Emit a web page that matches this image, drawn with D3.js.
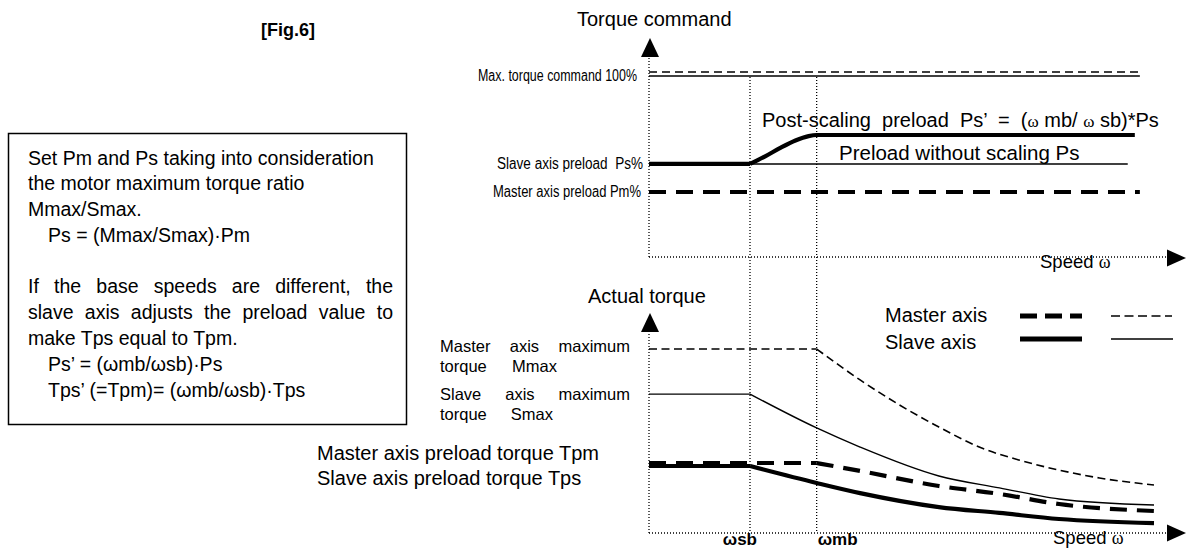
<!DOCTYPE html>
<html>
<head>
<meta charset="utf-8">
<script src="https://cdn.jsdelivr.net/npm/d3@7/dist/d3.min.js"></script>
<style>
  body { margin: 0; background: #fff; }
  svg text { font-family: "Liberation Sans", Arial, sans-serif; fill: #000; }
  .serif { font-family: "Liberation Serif", "DejaVu Serif", serif; }
</style>
</head>
<body>
<svg id="chart" width="1186" height="549"></svg>
<script>
// speed is relative to the slave base speed (wsb = 1)
var speedMarks = [{label: "ωsb", v: 1.0}, {label: "ωmb", v: 1.66}];

// upper chart, torque command in %
var cmdMaxMaster = [[0, 100], [4.86, 100]];
var cmdMaxSlave = [[0, 100], [4.86, 100]];
var cmdPs = [[0, 51.4], [1.0, 51.4], [4.74, 51.4]];
var cmdPsScaled = [[0, 51.4], [1.0, 51.4], [1.15, 55.6], [1.3, 60.3], [1.45, 64.4], [1.58, 66.8], [1.66, 67.4], [4.81, 67.4]];
var cmdPm = [[0, 35.9], [4.86, 35.9]];

// lower chart, actual torque in % of master max
var masterMax = [[0, 100], [1.66, 100], [2.09, 83.2], [2.48, 69.6], [2.87, 57.6], [3.27, 46.7], [3.66, 39.7], [4.06, 34.2], [4.46, 29.9], [5.0, 26.1]];
var slaveMax = [[0, 75.5], [1.0, 75.5], [1.66, 57.1], [2.09, 46.7], [2.87, 31.0], [3.47, 24.5], [4.06, 18.5], [5.0, 15.2]];
var masterPreload = [[0, 37.5], [1.66, 37.5], [2.09, 33.2], [2.87, 25.0], [3.47, 20.7], [4.06, 15.2], [5.0, 11.4]];
var slavePreload = [[0, 36.4], [1.0, 36.4], [1.66, 27.2], [2.09, 21.7], [2.87, 14.1], [3.47, 10.9], [4.06, 7.6], [5.0, 5.4]];

var svg = d3.select("#chart");

var x = d3.scaleLinear().domain([0, 5]).range([649, 1154]);
var yTop = d3.scaleLinear().domain([0, 100]).range([257, 76]);
var yBot = d3.scaleLinear().domain([0, 100]).range([533, 349]);
var xEnd = 1167;   // where the x arrows start

var THICK = 4.2, THIN = 1.4;

function dotted(x1, y1, x2, y2) {
    svg.append("line")
        .attr("x1", x1).attr("y1", y1).attr("x2", x2).attr("y2", y2)
        .attr("stroke", "#000").attr("stroke-width", 1.3)
        .attr("stroke-dasharray", "1,2");
}

function arrowUp(cx, tip) {
    svg.append("path").attr("d", "M" + cx + "," + tip + "L" + (cx - 9) + "," + (tip + 19) + "L" + (cx + 9) + "," + (tip + 19) + "Z");
}
function arrowRight(tip, cy) {
    svg.append("path").attr("d", "M" + tip + "," + cy + "L" + (tip - 19) + "," + (cy - 8.5) + "L" + (tip - 19) + "," + (cy + 8.5) + "Z");
}

// flat run drawn straight, the rest smoothed (keeps the corner at the base speed)
function series(data, y, width, dash, dy) {
    dy = dy || 0;
    var k = 0;
    while (k + 1 < data.length && data[k + 1][1] === data[0][1]) k++;
    var straight = d3.line().x(function(d) { return x(d[0]); }).y(function(d) { return y(d[1]) + dy; });
    var smooth = d3.line().curve(d3.curveMonotoneX).x(function(d) { return x(d[0]); }).y(function(d) { return y(d[1]) + dy; });
    var g = svg.append("g").attr("fill", "none").attr("stroke", "#000")
        .attr("stroke-width", width).attr("stroke-dasharray", dash || null);
    g.append("path").attr("d", straight(data.slice(0, k + 1)));
    if (k < data.length - 1) g.append("path").attr("d", smooth(data.slice(k)));
}

// ---- axes ----
dotted(x(0), yTop(0), x(0), 57);
dotted(x(0), yTop(0), xEnd, yTop(0));
arrowUp(x(0) + 1, 38);
arrowRight(1186, yTop(0) + 1);

dotted(x(0), yBot(0), x(0), 332);
dotted(x(0), yBot(0), xEnd, yBot(0));
arrowUp(x(0) + 1, 313);
arrowRight(1186, yBot(0));

speedMarks.forEach(function(m) {
    dotted(x(m.v), 77, x(m.v), yBot(0));
});

// ---- upper chart ----
series(cmdMaxMaster, yTop, THIN, "8,5", -4);
series(cmdMaxSlave, yTop, THIN);
series(cmdPs, yTop, THIN);
series(cmdPsScaled, yTop, THICK);
series(cmdPm, yTop, THICK, "17,10");

// ---- lower chart ----
series(masterMax, yBot, 1.6, "8,4.5");
series(slaveMax, yBot, THIN);
series(masterPreload, yBot, THICK, "17,10", -1);
series(slavePreload, yBot, THICK);

// ---- text ----
function label(t, px, py, size, anchor, weight) {
    return svg.append("text").attr("x", px).attr("y", py)
        .attr("font-size", size).attr("text-anchor", anchor || "start")
        .attr("font-weight", weight || null).text(t);
}

// words spread from x0 to x1
function justify(t, x0, x1, py, size) {
    var words = t.split(" ");
    var nodes = words.map(function(w) { return label(w, 0, py, size); });
    var widths = nodes.map(function(n) { return n.node().getComputedTextLength(); });
    var gap = (x1 - x0 - d3.sum(widths)) / (words.length - 1);
    var cur = x0;
    nodes.forEach(function(n, i) { n.attr("x", cur); cur += widths[i] + gap; });
}

// narrow label squeezed into [x0, x1]
function squeezed(t, x0, x1, py, size) {
    return label(t, x0, py, size).attr("textLength", x1 - x0).attr("lengthAdjust", "spacingAndGlyphs")
        .style("white-space", "pre");
}

label("[Fig.6]", 261, 36, 18, "start", "bold");
label("Torque command", 577, 26, 20);
label("Actual torque", 588, 303, 20);

squeezed("Max. torque command 100%", 478, 637, 81, 16);
squeezed("Slave axis preload  Ps%", 497, 643, 169, 16);
squeezed("Master axis preload Pm%", 493, 641, 197, 16);

var post = svg.append("text").attr("x", 762).attr("y", 127).attr("font-size", 20).style("white-space", "pre");
post.append("tspan").text("Post-scaling  preload  Ps’  =  (");
post.append("tspan").attr("class", "serif").attr("font-size", 17).text("ω");
post.append("tspan").text(" mb/ ");
post.append("tspan").attr("class", "serif").attr("font-size", 17).text("ω");
post.append("tspan").text(" sb)*Ps");

label("Preload without scaling Ps", 839, 160, 20.5);

function speedLabel(px, py) {
    var t = svg.append("text").attr("x", px).attr("y", py).attr("font-size", 18.5).style("white-space", "pre");
    t.append("tspan").text("Speed ");
    t.append("tspan").attr("class", "serif").attr("font-size", 18).text("ω");
}
speedLabel(1040, 268);
speedLabel(1053, 544);

label(speedMarks[0].label, x(speedMarks[0].v) + 7, 545, 17, "end", "bold");
label(speedMarks[1].label, x(speedMarks[1].v) + 1, 545, 17, "start", "bold");

// lower chart left labels
justify("Master axis maximum", 440, 630, 352, 16.5);
justify("torque Mmax", 440, 557, 372, 16.5);
justify("Slave axis maximum", 440, 630, 400, 16.5);
justify("torque Smax", 440, 553, 420, 16.5);
label("Master axis preload torque Tpm", 317, 460, 20);
label("Slave axis preload torque Tps", 317, 485, 20);

// legend
label("Master axis", 885, 322, 20);
label("Slave axis", 885, 349, 20);
var legend = [
    {y: 316, x1: 1020, x2: 1082, w: 4.8, dash: "17,8"},
    {y: 316, x1: 1111, x2: 1172, w: 1.4, dash: "9,4.5"},
    {y: 339, x1: 1020, x2: 1082, w: 4.8, dash: null},
    {y: 339, x1: 1111, x2: 1173, w: 1.4, dash: null}
];
legend.forEach(function(l) {
    svg.append("line").attr("x1", l.x1).attr("x2", l.x2).attr("y1", l.y).attr("y2", l.y)
        .attr("stroke", "#000").attr("stroke-width", l.w).attr("stroke-dasharray", l.dash);
});

// note box
svg.append("rect").attr("x", 8.5).attr("y", 133.5).attr("width", 398).attr("height", 291)
    .attr("fill", "none").attr("stroke", "#000").attr("stroke-width", 1.5);
label("Set Pm and Ps taking into consideration", 28, 165, 19.5);
label("the motor maximum torque ratio", 28, 190, 19.5);
label("Mmax/Smax.", 28, 216, 19.5);
label("Ps = (Mmax/Smax)·Pm", 48, 242, 19.5);
justify("If the base speeds are different, the", 28, 393, 293, 19.5);
justify("slave axis adjusts the preload value to", 28, 393, 319, 19.5);
label("make Tps equal to Tpm.", 28, 345, 19.5);
label("Ps’ = (ωmb/ωsb)·Ps", 48, 371, 19.5);
label("Tps’ (=Tpm)= (ωmb/ωsb)·Tps", 48, 397, 19.5);
</script>
</body>
</html>
